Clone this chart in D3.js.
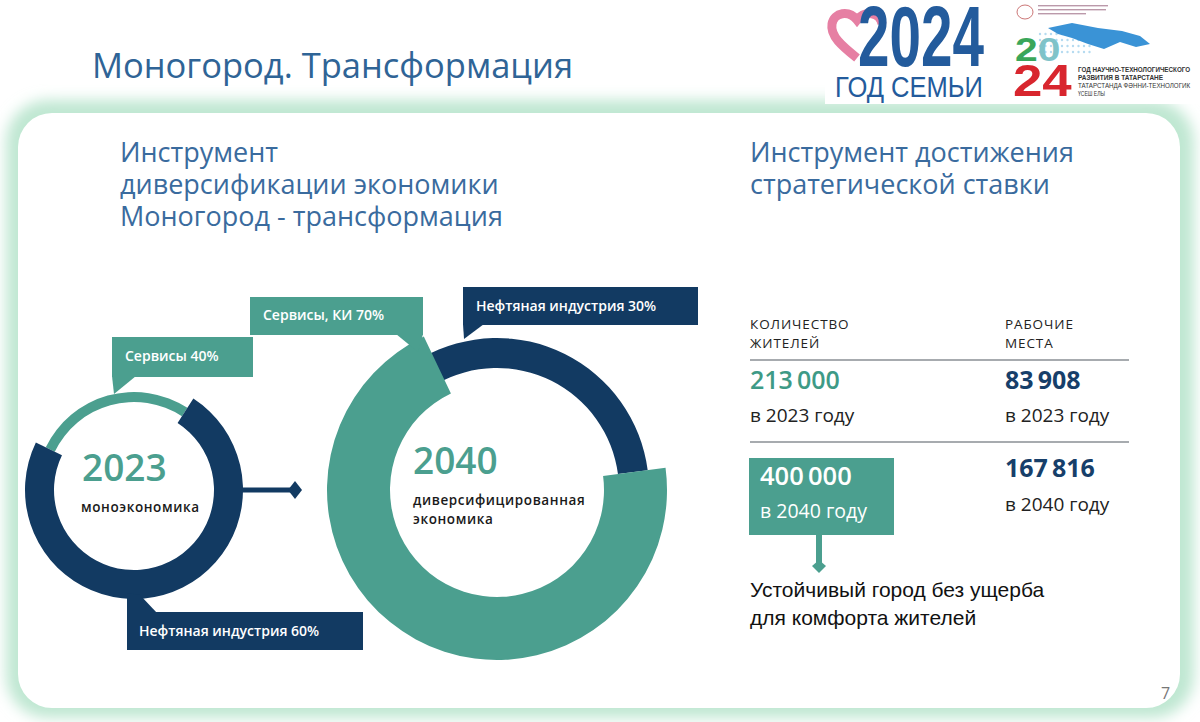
<!DOCTYPE html>
<html><head><meta charset="utf-8">
<script src="https://cdn.jsdelivr.net/npm/d3@7"></script>
<style>body{margin:0;background:#fff}svg{display:block}</style>
</head><body>
<svg id="c" width="1200" height="722"></svg>
<script>
// ---------- data ----------
const pageTitle = "Моногород. Трансформация";
const leftHeading = ["Инструмент", "диверсификации экономики", "Моногород - трансформация"];
const rightHeading = ["Инструмент достижения", "стратегической ставки"];
const years = ["2023", "2040"];
const economyLabels = [["моноэкономика"], ["диверсифицированная", "экономика"]];
// ring 2023: [oil, services]
const ring2023Labels = ["Нефтяная индустрия 60%", "Сервисы 40%"];
const ring2023Shares = [73, 27];   // arc shares as drawn in the picture
// ring 2040: [services, oil]
const ring2040Labels = ["Сервисы, КИ 70%", "Нефтяная индустрия 30%"];
const ring2040Shares = [70, 30];
const tableHeaders = [["КОЛИЧЕСТВО", "ЖИТЕЛЕЙ"], ["РАБОЧИЕ", "МЕСТА"]];
const tableYears = [2023, 2040];
const residents = [213000, 400000];
const jobs = [83908, 167816];
const conclusion = ["Устойчивый город без ущерба", "для комфорта жителей"];
const logoYear = "2024";
const logoFamily = "ГОД СЕМЬИ";
const logoScience = ["ГОД НАУЧНО-ТЕХНОЛОГИЧЕСКОГО", "РАЗВИТИЯ В ТАТАРСТАНЕ", "ТАТАРСТАНДА ФӘННИ-ТЕХНОЛОГИК", "ҮСЕШ ЕЛЫ"];
const pageNumber = "7";

// ---------- styles ----------
const TEAL = "#4b9f8f", NAVY = "#123a62", HEAD = "#3a6b9e";
const F = "'Open Sans', 'Noto Sans', sans-serif";
const NARROW = "'Liberation Sans Narrow','Liberation Sans',sans-serif";
const svg = d3.select("#c");
const defs = svg.append("defs");
defs.append("filter").attr("id", "blur").attr("x", "-10%").attr("y", "-10%").attr("width", "120%").attr("height", "120%")
  .append("feGaussianBlur").attr("stdDeviation", 7);

const fmt = d3.formatLocale({decimal: ",", thousands: "\u2009", grouping: [3], currency: ["", ""]}).format(",d");
const rad = d => d * Math.PI / 180;

// text squeezed to a width by a horizontal scale (logo lettering)
function fitText(parent, s, x, y, width, attrs) {
  const t = parent.append("text").attr("x", 0).attr("y", 0).text(s);
  Object.entries(attrs).forEach(([k, v]) => t.attr(k, v));
  const w = t.node().getComputedTextLength();
  t.attr("transform", `translate(${x},${y}) scale(${width / w},1)`);
  return t;
}

// ---------- card ----------
svg.append("rect").attr("x", 6).attr("y", 100).attr("width", 1188).attr("height", 618).attr("rx", 42)
  .attr("fill", "#bfe7d2").attr("filter", "url(#blur)");
svg.append("rect").attr("x", 18).attr("y", 113).attr("width", 1162).attr("height", 595).attr("rx", 34).attr("fill", "#fff");
svg.append("rect").attr("x", 825).attr("y", 0).attr("width", 375).attr("height", 104).attr("fill", "#fff");

// ---------- title ----------
svg.append("text").attr("x", 92).attr("y", 78).attr("font-family", F).attr("font-size", 34.5)
  .attr("fill", "#2f6496").text(pageTitle);

// ---------- logos ----------
const logo = svg.append("g");
logo.append("path").attr("d", "M857,58 C842,46 830,36 832,24 C834,12 849,10 857,20 C865,10 880,12 882,24")
  .attr("fill", "none").attr("stroke", "#e67fa3").attr("stroke-width", 9);
fitText(logo, logoYear, 858, 66, 126, {"font-family": NARROW, "font-weight": 700, "font-size": 86, fill: "#235b9c"});
fitText(logo, logoFamily, 835, 97, 148, {"font-family": NARROW, "font-size": 29, fill: "#235b9c"});
logo.append("ellipse").attr("cx", 1025).attr("cy", 12).attr("rx", 8).attr("ry", 7).attr("fill", "none").attr("stroke", "#c77").attr("stroke-width", 1);
[[5, 70], [9, 68], [13, 48]].forEach(([y, w]) => logo.append("rect").attr("x", 1038).attr("y", y).attr("width", w).attr("height", 1.4).attr("fill", "#b9a"));
d3.range(0, 40).forEach(i => logo.append("circle").attr("cx", 1040 + (i % 10) * 5.5).attr("cy", 34 + Math.floor(i / 10) * 6)
  .attr("r", 1.2).attr("fill", "#b5dbf0"));
logo.append("polygon").attr("points", "1048,28 1072,23 1098,28 1122,31 1140,36 1150,44 1136,47 1120,42 1104,49 1088,44 1072,38 1058,34")
  .attr("fill", "#3a93d6");
{
  const s = 1.2;
  const grad = defs.append("linearGradient").attr("id", "g20").attr("gradientUnits", "userSpaceOnUse")
    .attr("x1", 1015 / s).attr("x2", 1061 / s).attr("y1", 0).attr("y2", 0);
  [[0, "#3aa65a"], [0.5, "#3aa65a"], [0.5, "#7fc3c9"], [1, "#7fc3c9"]].forEach(([o, c]) =>
    grad.append("stop").attr("offset", o).attr("stop-color", c));
  const t = logo.append("text").attr("transform", `scale(${s},1)`).attr("font-family", "'Liberation Sans',sans-serif").attr("font-weight", 700);
  t.append("tspan").attr("x", 1015 / s).attr("y", 61).attr("font-size", 34).attr("fill", "url(#g20)").text(logoYear.slice(0, 2));
  t.append("tspan").attr("x", 1013 / s).attr("y", 96).attr("font-size", 44).attr("fill", "#d8262e").text(logoYear.slice(2));
}
logoScience.forEach((s, i) => fitText(logo, s, 1078, 72 + i * 8, [112, 85, 112, 27][i],
  {"font-family": NARROW, "font-size": 7.2, "font-weight": i < 2 ? 700 : 400, fill: "#333"}));

// ---------- headings ----------
[[leftHeading, 120], [rightHeading, 750]].forEach(([lines, x]) => {
  const t = svg.append("text").attr("font-family", F).attr("font-size", 27).attr("fill", HEAD);
  lines.forEach((s, i) => t.append("tspan").attr("x", x).attr("y", 162 + i * 32).text(s));
});

// ---------- callouts ----------
function callout(box, pointer, label, fill, tx, ty) {
  svg.append("polygon").attr("points", pointer.map(p => p.join(",")).join(" ")).attr("fill", fill);
  svg.append("rect").attr("x", box[0]).attr("y", box[1]).attr("width", box[2]).attr("height", box[3]).attr("fill", fill);
  svg.append("text").attr("x", tx).attr("y", ty).attr("font-family", F).attr("font-weight", 600)
    .attr("font-size", 14).attr("fill", "#fff").text(label);
}

// ---------- ring 2023 ----------
const g23 = svg.append("g").attr("transform", "translate(134,490)");
const pie23 = d3.pie().sort(null).startAngle(rad(33)).endAngle(rad(33) + 2 * Math.PI)(ring2023Shares);
g23.append("path").attr("d", d3.arc().innerRadius(88).outerRadius(98)(pie23[1])).attr("fill", TEAL);
g23.append("path").attr("d", d3.arc().innerRadius(80).outerRadius(109)(pie23[0])).attr("fill", NAVY);

// connector
svg.append("line").attr("x1", 240).attr("x2", 292).attr("y1", 490).attr("y2", 490).attr("stroke", NAVY).attr("stroke-width", 5);
svg.append("polygon").attr("points", "288,490 295,481 302,490 295,499").attr("fill", NAVY);

// ---------- ring 2040 ----------
const g40 = svg.append("g").attr("transform", "translate(497,490)");
const pie40 = d3.pie().sort(null).startAngle(rad(82.5)).endAngle(rad(82.5) + 2 * Math.PI)(ring2040Shares);
g40.append("path").attr("d", d3.arc().innerRadius(122).outerRadius(152)({startAngle: pie40[1].startAngle - rad(4), endAngle: pie40[1].endAngle})).attr("fill", NAVY);
g40.append("path").attr("d", d3.arc().innerRadius(107).outerRadius(170)(pie40[0])).attr("fill", TEAL);

// callout boxes
callout([112, 337, 141, 40], [[112, 376], [136, 376], [114, 394]], ring2023Labels[1], TEAL, 125, 361);
callout([250, 297, 173, 38], [[396, 334], [423, 334], [418, 352]], ring2040Labels[0], TEAL, 263, 320);
callout([463, 287, 235, 38], [[463, 324], [484, 324], [464, 339]], ring2040Labels[1], NAVY, 476, 311);
callout([127, 612, 236, 38], [[127, 593], [140, 595], [157, 613], [127, 613]], ring2023Labels[0], NAVY, 139, 636);

// centre texts
[[g23, -52, -9], [g40, -84, -16]].forEach(([g, x, y], i) => {
  g.append("text").attr("x", x).attr("y", y).attr("font-family", F).attr("font-weight", 600).attr("font-size", 37)
    .attr("fill", TEAL).text(years[i]);
  economyLabels[i].forEach((s, j) => g.append("text").attr("x", x - (i === 0 ? 1 : 0)).attr("y", (i === 0 ? 22 : 15) + j * 19)
    .attr("font-family", F).attr("font-weight", 600).attr("font-size", 13.5).attr("letter-spacing", 0.6)
    .attr("fill", "#1a1a1a").text(s));
});

// ---------- table ----------
const cols = [750, 1005];
tableHeaders.forEach((h, i) => h.forEach((s, j) => svg.append("text").attr("x", cols[i]).attr("y", 329 + j * 19)
  .attr("font-family", F).attr("font-size", 13.5).attr("letter-spacing", 0.9).attr("fill", "#222").text(s)));
[360, 442].forEach(y => svg.append("line").attr("x1", 750).attr("x2", 1129).attr("y1", y).attr("y2", y)
  .attr("stroke", "#8a8f94").attr("stroke-width", 1.6));
// row 2023
svg.append("text").attr("x", 750).attr("y", 389).attr("font-family", F).attr("font-weight", 600).attr("font-size", 25)
  .attr("fill", "#3e9a86").text(fmt(residents[0]));
svg.append("text").attr("x", 1005).attr("y", 389).attr("font-family", F).attr("font-weight", 700).attr("font-size", 25)
  .attr("fill", "#173f6a").text(fmt(jobs[0]));
cols.forEach(x => svg.append("text").attr("x", x).attr("y", 422).attr("font-family", F).attr("font-size", 19)
  .attr("fill", "#222").text(`в ${tableYears[0]} году`));
// row 2040
svg.append("rect").attr("x", 749).attr("y", 458).attr("width", 145).attr("height", 77).attr("fill", TEAL);
svg.append("text").attr("x", 760).attr("y", 485).attr("font-family", F).attr("font-weight", 600).attr("font-size", 25.5)
  .attr("fill", "#fff").text(fmt(residents[1]));
svg.append("text").attr("x", 760).attr("y", 518).attr("font-family", F).attr("font-size", 19.5)
  .attr("fill", "#fff").text(`в ${tableYears[1]} году`);
svg.append("text").attr("x", 1005).attr("y", 477).attr("font-family", F).attr("font-weight", 700).attr("font-size", 25)
  .attr("fill", "#173f6a").text(fmt(jobs[1]));
svg.append("text").attr("x", 1005).attr("y", 511).attr("font-family", F).attr("font-size", 19)
  .attr("fill", "#222").text(`в ${tableYears[1]} году`);
svg.append("line").attr("x1", 819).attr("x2", 819).attr("y1", 535).attr("y2", 565).attr("stroke", TEAL).attr("stroke-width", 6);
svg.append("polygon").attr("points", "812,566 819,560 826,566 819,573").attr("fill", TEAL);
conclusion.forEach((s, i) => svg.append("text").attr("x", 750).attr("y", 597 + i * 28)
  .attr("font-family", "'Liberation Sans', Arial, sans-serif").attr("font-size", 21).attr("fill", "#111").text(s));

svg.append("text").attr("x", 1161).attr("y", 699).attr("font-family", F).attr("font-size", 16).attr("fill", "#777").text(pageNumber);
</script>
</body></html>
